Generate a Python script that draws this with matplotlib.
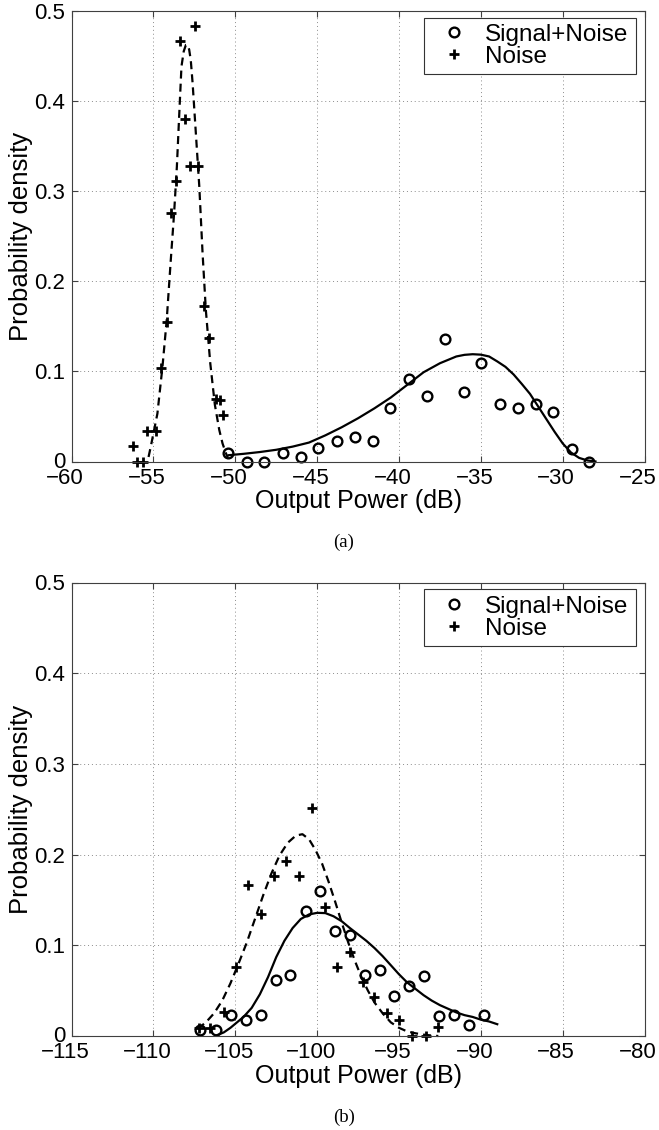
import matplotlib
matplotlib.use("Agg")
import matplotlib.pyplot as plt
from matplotlib.transforms import ScaledTranslation

plt.rcParams['font.family'] = ['Liberation Sans', 'DejaVu Sans']

# ---------------- panel (a) ----------------
a_sn_power = [-50.42, -49.30, -48.22, -47.10, -46.00, -44.92, -43.80, -42.68, -41.62,
              -40.54, -39.38, -38.30, -37.18, -36.06, -35.00, -33.86, -32.76, -31.64,
              -30.57, -29.44, -28.37]
a_sn_density = [0.009, 0.0, 0.0, 0.009, 0.005, 0.015, 0.023, 0.027, 0.023,
                0.059, 0.091, 0.073, 0.136, 0.077, 0.109, 0.064, 0.059, 0.064,
                0.055, 0.014, 0.0]

a_noise_power = [-56.26, -56.02, -55.65, -55.37, -54.84, -54.51, -54.19, -53.90, -53.63,
                 -53.39, -53.06, -52.76, -52.45, -52.25, -51.90, -51.59, -51.20, -50.95,
                 -50.73]
a_noise_density = [0.017, 0.0, 0.0, 0.034, 0.034, 0.104, 0.155, 0.276, 0.311,
                   0.466, 0.380, 0.328, 0.483, 0.328, 0.173, 0.137, 0.069, 0.068,
                   0.052]

a_sn_fit_power = [-50.40, -49.50, -48.50, -47.50, -46.50, -45.50, -44.50, -43.50, -42.50,
                  -41.50, -40.50, -39.50, -38.50, -37.50, -36.50, -36.00, -35.50, -35.00,
                  -34.50, -34.00, -33.50, -33.00, -32.50, -32.00, -31.50, -31.00, -30.50,
                  -30.00, -29.50, -29.00, -28.50, -28.00]
a_sn_fit_density = [0.007, 0.0085, 0.0105, 0.013, 0.0165, 0.021, 0.029, 0.038, 0.048,
                    0.059, 0.071, 0.085, 0.099, 0.109, 0.1165, 0.1183, 0.119, 0.1185,
                    0.1165, 0.111, 0.105, 0.0965, 0.086, 0.075, 0.061, 0.047, 0.033,
                    0.020, 0.010, 0.004, 0.0012, 0.0]

a_noise_fit_power = [-55.30, -55.17, -54.76, -54.45, -54.19, -53.94, -53.74, -53.57, -53.43,
                     -53.29, -53.15, -53.02, -52.92, -52.82, -52.72, -52.61, -52.41, -52.20,
                     -52.00, -51.80, -51.53, -51.25, -50.98, -50.78, -50.57, -50.45]
a_noise_fit_density = [0.005, 0.016, 0.053, 0.105, 0.157, 0.224, 0.275, 0.327, 0.383,
                       0.438, 0.455, 0.462, 0.462, 0.457, 0.445, 0.420, 0.364, 0.305,
                       0.231, 0.168, 0.109, 0.063, 0.035, 0.020, 0.009, 0.004]

a_xticks = [-60, -55, -50, -45, -40, -35, -30, -25]

# ---------------- panel (b) ----------------
b_sn_power = [-107.13, -106.21, -105.26, -104.32, -103.46, -102.51, -101.63, -100.71,
              -99.80, -98.92, -98.00, -97.09, -96.17, -95.32, -94.40, -93.45, -92.57,
              -91.66, -90.74, -89.82]
b_sn_density = [0.007, 0.007, 0.023, 0.018, 0.023, 0.062, 0.067, 0.138,
                0.160, 0.116, 0.111, 0.067, 0.073, 0.044, 0.055, 0.066, 0.022,
                0.023, 0.012, 0.023]

b_noise_power = [-107.23, -106.52, -105.70, -104.93, -104.20, -103.46, -102.65, -101.90,
                 -101.12, -100.31, -99.55, -98.78, -97.97, -97.20, -96.54, -95.72, -95.01,
                 -94.20, -93.38, -92.63]
b_noise_density = [0.009, 0.009, 0.026, 0.076, 0.167, 0.134, 0.176, 0.193,
                   0.176, 0.251, 0.142, 0.076, 0.093, 0.059, 0.043, 0.025, 0.018,
                   0.0, 0.0, 0.010]

b_sn_fit_power = [-106.10, -105.70, -105.30, -104.90, -104.50, -104.00, -103.50, -103.00,
                  -102.50, -102.00, -101.50, -101.00, -100.50, -100.00, -99.50, -99.00,
                  -98.50, -98.00, -97.50, -97.00, -96.50, -96.00, -95.50, -95.00, -94.50,
                  -94.00, -93.50, -93.00, -92.50, -92.00, -91.50, -91.00, -90.50, -90.00,
                  -89.50, -89.00]
b_sn_fit_density = [0.001, 0.004, 0.009, 0.015, 0.021, 0.031, 0.046, 0.065,
                    0.087, 0.105, 0.119, 0.129, 0.134, 0.1358, 0.1355, 0.132,
                    0.1265, 0.119, 0.112, 0.105, 0.097, 0.088, 0.078, 0.068, 0.059,
                    0.052, 0.045, 0.039, 0.034, 0.030, 0.026, 0.023, 0.021, 0.018,
                    0.016, 0.013]

b_noise_fit_power = [-107.30, -106.80, -106.30, -105.80, -105.30, -104.80, -104.30, -103.80,
                     -103.30, -102.80, -102.30, -101.80, -101.30, -100.90, -100.50, -100.10,
                     -99.70, -99.30, -98.90, -98.50, -98.10, -97.70, -97.30, -96.90, -96.50,
                     -96.00, -95.50, -95.00, -94.50, -94.00, -93.50, -93.00, -92.60]
b_noise_fit_density = [0.008, 0.015, 0.025, 0.039, 0.058, 0.080, 0.103, 0.129,
                       0.155, 0.179, 0.199, 0.213, 0.221, 0.2225, 0.217, 0.205,
                       0.190, 0.170, 0.148, 0.125, 0.103, 0.083, 0.065, 0.050, 0.037,
                       0.025, 0.015, 0.009, 0.005, 0.003, 0.0015, 0.0005, 0.0]

b_xticks = [-115, -110, -105, -100, -95, -90, -85, -80]

# ---------------- shared text ----------------
y_ticks = [0, 0.1, 0.2, 0.3, 0.4, 0.5]
y_tick_labels = ['0', '0.1', '0.2', '0.3', '0.4', '0.5']
legend_labels = ['Signal+Noise', 'Noise']
x_title = 'Output Power (dB)'
y_title = 'Probability density'
captions = ['(a)', '(b)']

W, H, DPI = 659, 1130, 100
fig = plt.figure(figsize=(W / DPI, H / DPI), dpi=DPI)

FRAME = '0.25'


def panel(rect, xticks, sn_p, sn_d, nz_p, nz_d, snf_p, snf_d, nzf_p, nzf_d):
    ax = fig.add_axes(rect)
    ax.set_axisbelow(True)
    ax.grid(True, linestyle=(0, (1, 3)), color='0.55', linewidth=0.7)

    ax.plot(snf_p, snf_d, color='black', lw=1.6, solid_joinstyle='round', clip_on=False)
    ax.plot(nzf_p, nzf_d, color='black', lw=1.6, linestyle=(0, (3.6, 2.3)),
            dash_capstyle='butt', clip_on=False)
    ax.plot(sn_p, sn_d, linestyle='none', marker='o', markersize=7.0,
            markerfacecolor='none', markeredgecolor='black', markeredgewidth=1.7,
            clip_on=False, label=legend_labels[0])
    ax.plot(nz_p, nz_d, linestyle='none', marker='+', markersize=7.5,
            markeredgecolor='black', markeredgewidth=2.0, clip_on=False,
            label=legend_labels[1])

    ax.set_xlim(xticks[0], xticks[-1])
    ax.set_ylim(0, 0.5)
    ax.set_xticks(xticks)
    ax.set_xticklabels(['\u2212%d' % abs(v) for v in xticks])
    ax.set_yticks(y_ticks)
    ax.set_yticklabels(y_tick_labels)

    for s in ax.spines.values():
        s.set_color(FRAME)
        s.set_linewidth(0.8)
    ax.tick_params(direction='in', length=4, width=0.8, color=FRAME,
                   top=True, right=True, labelsize=16, labelcolor='black')
    ax.tick_params(axis='x', pad=4.6)
    ax.tick_params(axis='y', pad=4.5)

    ax.set_xlabel(x_title, fontsize=18)
    ax.set_ylabel(y_title, fontsize=18.5)
    ax_h_px = rect[3] * H
    ax.xaxis.set_label_coords(0.5, -27.5 / ax_h_px)
    ax.yaxis.set_label_coords(-38.5 / (rect[2] * W), 0.5)

    # centre the digits of the negative labels on their ticks
    shift = ScaledTranslation(-6.5 / DPI, 0, fig.dpi_scale_trans)
    for lbl in ax.get_xticklabels():
        lbl.set_transform(lbl.get_transform() + shift)
    # lift the bottom "0" a little off the x tick labels
    lift = ScaledTranslation(0, 2 / DPI, fig.dpi_scale_trans)
    y0_lbl = ax.get_yticklabels()[0]
    y0_lbl.set_transform(y0_lbl.get_transform() + lift)

    box_l = (424 - rect[0] * W) / (rect[2] * W)
    box_r = (636 - rect[0] * W) / (rect[2] * W)
    box_t = 1 - 7 / ax_h_px
    leg = ax.legend(loc='upper left', bbox_to_anchor=(box_l, box_t - 0.3, box_r - box_l, 0.3),
                    mode='expand', borderaxespad=0, fontsize=17.5, numpoints=1,
                    handlelength=2.0, handletextpad=0.24, borderpad=0.25,
                    labelspacing=0.0, fancybox=False, framealpha=1, edgecolor='0.2')
    leg.get_frame().set_linewidth(0.8)
    return ax


ax_a = panel([71.6 / W, 1 - 461.5 / H, 573 / W, 450.8 / H], a_xticks,
             a_sn_power, a_sn_density, a_noise_power, a_noise_density,
             a_sn_fit_power, a_sn_fit_density, a_noise_fit_power, a_noise_fit_density)
ax_b = panel([71.6 / W, 1 - 1036 / H, 573 / W, 453.5 / H], b_xticks,
             b_sn_power, b_sn_density, b_noise_power, b_noise_density,
             b_sn_fit_power, b_sn_fit_density, b_noise_fit_power, b_noise_fit_density)

fig.text(344 / W, 1 - 542.5 / H, captions[0], ha='center', va='center',
         fontsize=13.5, family=['Liberation Serif', 'DejaVu Serif'])
fig.text(344 / W, 1 - 1117 / H, captions[1], ha='center', va='center',
         fontsize=13.5, family=['Liberation Serif', 'DejaVu Serif'])

fig.savefig('out.png', dpi=DPI, facecolor='white')
